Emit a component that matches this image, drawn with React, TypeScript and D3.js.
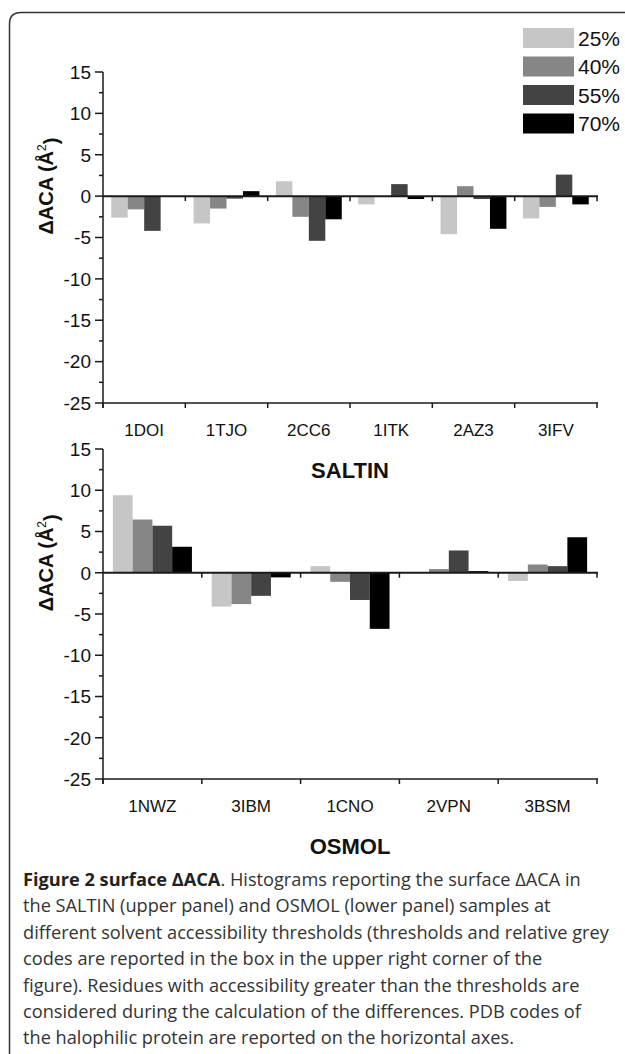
import React, { useEffect, useRef } from "react";
import * as d3 from "d3";

// thresholds (legend) and their grey codes
const thresholds = ["25%", "40%", "55%", "70%"];
const greys = ["#c6c6c6", "#868686", "#434343", "#000000"];

// SALTIN sample (upper panel)
const saltinCodes = ["1DOI", "1TJO", "2CC6", "1ITK", "2AZ3", "3IFV"];
const saltin25 = [-2.6, -3.3, 1.8, -1.0, -4.6, -2.7];
const saltin40 = [-1.6, -1.5, -2.5, 0, 1.2, -1.3];
const saltin55 = [-4.2, -0.3, -5.4, 1.45, -0.35, 2.6];
const saltin70 = [0, 0.6, -2.8, -0.35, -3.95, -1.0];

// OSMOL sample (lower panel)
const osmolCodes = ["1NWZ", "3IBM", "1CNO", "2VPN", "3BSM"];
const osmol25 = [9.4, -4.1, 0.8, 0, -1.0];
const osmol40 = [6.45, -3.8, -1.1, 0.45, 1.0];
const osmol55 = [5.7, -2.8, -3.3, 2.7, 0.8];
const osmol70 = [3.15, -0.56, -6.8, 0.2, 4.3];

const yTicks = [15, 10, 5, 0, -5, -10, -15, -20, -25];

const captionLines = [
  "the SALTIN (upper panel) and OSMOL (lower panel) samples at",
  "different solvent accessibility thresholds (thresholds and relative grey",
  "codes are reported in the box in the upper right corner of the",
  "figure). Residues with accessibility greater than the thresholds are",
  "considered during the calculation of the differences. PDB codes of",
  "the halophilic protein are reported on the horizontal axes.",
];

const W = 625;
const H = 1054;
const AXIS = "#1a1a1a";
const SANS = "'Liberation Sans', Arial, sans-serif";

const drawPanel = (svg, codes, series, top, bottom, title, titleY) => {
  const left = 103;
  const right = 597;
  const y = d3.scaleLinear().domain([-25, 15]).range([bottom, top]);
  const x = d3.scaleBand().domain(codes).range([left, right]);
  const bw = x.bandwidth();
  const inner = d3
    .scaleBand()
    .domain(thresholds)
    .range([bw * 0.1, bw * 0.9]);

  const g = svg.append("g");

  // bars
  codes.forEach((code, i) => {
    series.forEach((vals, s) => {
      const v = vals[i];
      if (v === 0) return;
      g.append("rect")
        .attr("x", x(code) + inner(thresholds[s]))
        .attr("width", inner.bandwidth())
        .attr("y", y(Math.max(0, v)))
        .attr("height", Math.abs(y(v) - y(0)))
        .attr("fill", greys[s]);
    });
  });

  // y axis
  g.append("line")
    .attr("x1", left).attr("x2", left)
    .attr("y1", y(15)).attr("y2", y(-25) + 5)
    .attr("stroke", AXIS).attr("stroke-width", 1.5);
  d3.range(-25, 15.1, 2.5).forEach((t) => {
    const major = t % 5 === 0;
    g.append("line")
      .attr("x1", left - (major ? 8 : 4)).attr("x2", left)
      .attr("y1", y(t)).attr("y2", y(t))
      .attr("stroke", AXIS).attr("stroke-width", 1.5);
  });
  yTicks.forEach((t) => {
    g.append("text")
      .attr("x", left - 12)
      .attr("y", y(t))
      .attr("dy", "0.36em")
      .attr("text-anchor", "end")
      .style("font-family", SANS)
      .style("font-size", "19px")
      .attr("fill", "#111")
      .text(t);
  });

  // zero line and bottom axis, ticks at band edges
  [0, -25].forEach((lv) => {
    g.append("line")
      .attr("x1", left).attr("x2", right + 1)
      .attr("y1", y(lv)).attr("y2", y(lv))
      .attr("stroke", AXIS).attr("stroke-width", lv === 0 ? 2 : 1.5);
    codes.forEach((code, i) => {
      const edges = i === 0 ? [x(code), x(code) + bw] : [x(code) + bw];
      edges.forEach((ex) => {
        if (lv === 0 && ex === left) return;
        g.append("line")
          .attr("x1", ex).attr("x2", ex)
          .attr("y1", y(lv)).attr("y2", y(lv) + 5)
          .attr("stroke", AXIS).attr("stroke-width", 1.5);
      });
    });
  });

  // category labels
  codes.forEach((code) => {
    g.append("text")
      .attr("x", x(code) + bw / 2)
      .attr("y", y(-25) + 27)
      .attr("dy", "0.36em")
      .attr("text-anchor", "middle")
      .style("font-family", SANS)
      .style("font-size", "17px")
      .attr("fill", "#111")
      .text(code);
  });

  // sample title
  g.append("text")
    .attr("x", 350)
    .attr("y", titleY)
    .attr("dy", "0.36em")
    .attr("text-anchor", "middle")
    .style("font-family", SANS)
    .style("font-size", "22px")
    .style("font-weight", "bold")
    .attr("fill", "#111")
    .text(title);

  // y axis title
  const yl = g.append("text")
    .attr("transform", `translate(53,${y(0) - 10}) rotate(-90)`)
    .attr("text-anchor", "middle")
    .style("font-family", SANS)
    .style("font-size", "20px")
    .style("font-weight", "bold")
    .attr("fill", "#111");
  yl.append("tspan").text("\u0394ACA (\u00c5");
  yl.append("tspan")
    .attr("dy", "-0.6em")
    .style("font-size", "12px")
    .style("font-weight", "normal")
    .text("2");
  yl.append("tspan").attr("dy", "0.6em").text(")");
};

const App = () => {
  const ref = useRef(null);

  useEffect(() => {
    const svg = d3.select(ref.current);
    svg.selectAll("*").remove();

    // outer box with rounded corner
    svg.append("path")
      .attr("d", `M9.5,${H} L9.5,24 Q9.5,12.5 21,12.5 L${W},12.5`)
      .attr("fill", "none")
      .attr("stroke", "#333")
      .attr("stroke-width", 1.5);

    drawPanel(svg, saltinCodes, [saltin25, saltin40, saltin55, saltin70], 72, 403, "SALTIN", 470);
    drawPanel(svg, osmolCodes, [osmol25, osmol40, osmol55, osmol70], 449, 779, "OSMOL", 846);

    // legend
    const leg = d3.scaleBand().domain(thresholds).range([24, 138]);
    thresholds.forEach((t, i) => {
      svg.append("rect")
        .attr("x", 523).attr("y", leg(t) + 4)
        .attr("width", 51).attr("height", 20)
        .attr("fill", greys[i]);
      svg.append("text")
        .attr("x", 578).attr("y", leg(t) + 14)
        .attr("dy", "0.36em")
        .style("font-family", SANS)
        .style("font-size", "21px")
        .attr("fill", "#111")
        .text(t);
    });

    // caption
    const cap = svg.append("g")
      .style("font-family", "'Open Sans', sans-serif")
      .style("font-size", "18.2px")
      .attr("fill", "#333");
    const first = cap.append("text").attr("x", 23).attr("y", 886);
    first.append("tspan").style("font-weight", "bold").attr("fill", "#222").text("Figure 2 surface \u0394ACA");
    first.append("tspan").text(". Histograms reporting the surface \u0394ACA in");
    captionLines.forEach((line, i) => {
      cap.append("text")
        .attr("x", 23)
        .attr("y", 886 + (i + 1) * 26.4)
        .text(line);
    });
  });

  return (
    <div style={{ position: "absolute", left: 0, top: 0 }}>
      <svg ref={ref} width={W} height={H} style={{ display: "block", background: "#fff" }}></svg>
    </div>
  );
};

export default App;
